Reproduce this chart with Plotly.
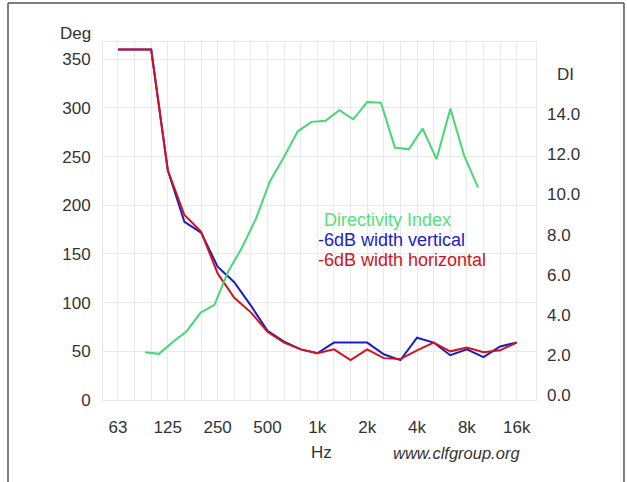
import plotly.graph_objects as go

# third-octave bands (category axis)
bands = ["63", "80", "100", "125", "160", "200", "250", "315", "400", "500", "630", "800",
         "1k", "1.25k", "1.6k", "2k", "2.5k", "3.15k", "4k", "5k", "6.3k", "8k", "10k", "12.5k", "16k"]
octave_labels = ["63", "125", "250", "500", "1k", "2k", "4k", "8k", "16k"]

width_vertical = [360, 360, 360, 236, 183, 172, 137, 121, 97, 71, 60, 52, 48,
                  59, 59, 59, 47, 41, 64, 59, 46, 52, 44, 55, 59]
width_horizontal = [360, 360, 360, 236, 190, 173, 130, 105, 90, 70, 59, 52, 48,
                    52, 41, 52, 43, 42, 51, 59, 50, 54, 49, 51, 59]
directivity_index = [2.14, 2.06, 2.65, 3.19, 4.11, 4.50, 6.18, 7.37, 8.81, 10.66, 11.86, 13.15, 13.62,
                     13.67, 14.20, 13.75, 14.61, 14.57, 12.34, 12.25, 13.29, 11.76, 14.28, 11.92, 10.34]

deg_ticks = [0, 50, 100, 150, 200, 250, 300, 350]
di_ticks = [0, 2, 4, 6, 8, 10, 12, 14]

FONT = "Liberation Sans, Arial, sans-serif"
GREEN = "#45d873"
BLUE = "#1c1cc8"
RED = "#d0141e"
GRID = "#e9e9e9"

fig = go.Figure()
fig.add_trace(go.Scatter(x=bands, y=directivity_index, xaxis="x2", yaxis="y2", mode="lines",
                         line=dict(color=GREEN, width=2), name="Directivity Index"))
fig.add_trace(go.Scatter(x=bands, y=width_vertical, mode="lines",
                         line=dict(color=BLUE, width=2), name="-6dB width vertical"))
fig.add_trace(go.Scatter(x=bands, y=width_horizontal, mode="lines",
                         line=dict(color=RED, width=2), name="-6dB width horizontal"))

ticktext = [b if b in octave_labels else "" for b in bands]

fig.update_layout(
    width=627, height=482,
    margin=dict(l=103, r=91, t=42, b=82),
    paper_bgcolor="white", plot_bgcolor="white",
    showlegend=False,
    font=dict(family=FONT, size=17, color="#333333"),
    xaxis=dict(type="category", categoryorder="array", categoryarray=bands,
               range=[-0.9, 25.16], tickvals=bands, ticktext=ticktext,
               showgrid=True, gridcolor=GRID, gridwidth=1,
               showline=True, mirror=True, linecolor=GRID, linewidth=1,
               ticks="", ticklabelstandoff=12, zeroline=False,
               tickfont=dict(size=17, color="#333333")),
    xaxis2=dict(type="category", categoryorder="array", categoryarray=bands,
                range=[-3.03, 28.17], overlaying="x", visible=False, anchor="y"),
    yaxis=dict(range=[0, 367.7], tickvals=deg_ticks, showgrid=True, gridcolor=GRID,
               gridwidth=1, showline=True, mirror=True, linecolor=GRID, zeroline=False,
               ticks="", ticklabelstandoff=8, tickfont=dict(size=17, color="#333333")),
    yaxis2=dict(range=[-0.24, 17.6], tickvals=di_ticks, tickformat=".1f", overlaying="y",
                side="right", showgrid=False, zeroline=False, ticks="", ticklabelstandoff=10,
                tickfont=dict(size=17, color="#333333")),
)

ann = [
    dict(text="Deg", x=-0.0624, y=1.0251, xanchor="center", yanchor="middle", font=dict(size=17)),
    dict(text="DI", x=1.069, y=0.9106, xanchor="center", yanchor="middle", font=dict(size=17)),
    dict(text="Hz", x=0.5035, y=-0.148, xanchor="center", yanchor="middle", font=dict(size=17)),
    dict(text="<i>www.clfgroup.org</i>", x=0.9677, y=-0.148, xanchor="right", yanchor="middle",
         font=dict(size=16.5)),
    dict(text="Directivity Index", x=0.5058, y=0.5028, xanchor="left", yanchor="middle",
         font=dict(size=18, color="#55e07a")),
    dict(text="-6dB width vertical", x=0.4919, y=0.4469, xanchor="left", yanchor="middle",
         font=dict(size=18, color=BLUE)),
    dict(text="-6dB width horizontal", x=0.4919, y=0.391, xanchor="left", yanchor="middle",
         font=dict(size=18, color=RED)),
]
for a in ann:
    a.update(xref="paper", yref="paper", showarrow=False)
    fig.add_annotation(**a)

# outer frame
frame = dict(type="line", xref="paper", yref="paper", line=dict(color="#555555", width=1.5))
fig.add_shape(x0=-0.2194, x1=-0.2194, y0=-0.25, y1=1.1089, **frame)
fig.add_shape(x0=-0.2194, x1=1.2032, y0=1.1089, y1=1.1089, **frame)
fig.add_shape(x0=1.2032, x1=1.2032, y0=-0.25, y1=1.1089, **frame)

fig.write_html("out.html", config={"displayModeBar": False},
               post_script="document.body.style.margin='0';document.body.style.overflow='hidden';")
